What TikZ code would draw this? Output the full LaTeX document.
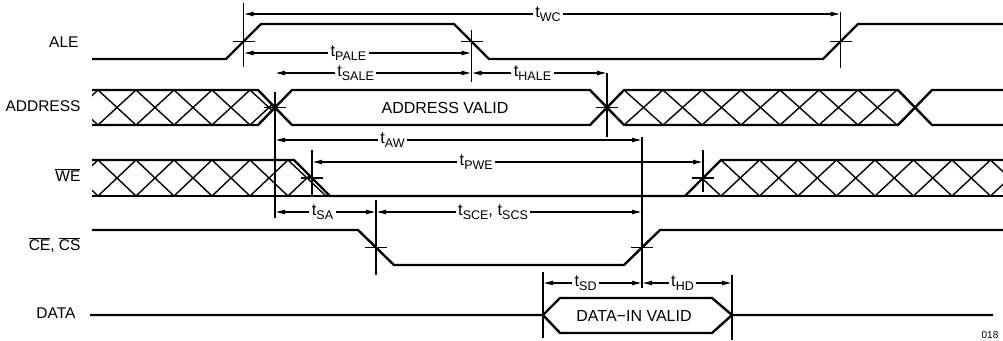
\documentclass[tikz,border=0pt]{standalone}
\usepackage{fontspec}
\setmainfont{Liberation Sans}
\usetikzlibrary{positioning,arrows.meta}

\newcommand{\tsub}[1]{t\raisebox{-0.45ex}{\fontsize{12.5}{13}\selectfont #1}}

\begin{document}
\begin{tikzpicture}[x=1pt, y=-1pt, line join=miter,
  signal/.style={line width=2.4pt},
  hatch/.style={line width=1.4pt},
  refline/.style={line width=1.2pt},
  dim/.style={{Latex[length=10pt,width=5pt]}-{Latex[length=10pt,width=5pt]}, line width=1.2pt},
  lbl/.style={fill=white, inner sep=2.5pt, font=\fontsize{16.5}{17}\selectfont},
  sig name/.style={anchor=east, font=\fontsize{15.5}{16}\selectfont}]

  \useasboundingbox (0,0) rectangle (1003,340);

  % Define signal names
  \node[sig name] (ale) at (82,42) {ALE};
  \node[sig name] (adr) at (84,106) {ADDRESS};
  \node[sig name] (we) at (84,175) {$\overline{\mbox{WE}}$};
  \node[sig name] (ce) at (84,245) {$\overline{\mbox{CE}}$, $\overline{\mbox{CS}}$};
  \node[sig name] (dat) at (79,313) {DATA};

  % Define crossing points
  \coordinate (ale1) at (243.5,41.5);
  \coordinate (ale2) at (471.5,41.5);
  \coordinate (ale3) at (840.5,41.5);
  \coordinate (adr1) at (275,107.5);
  \coordinate (adr2) at (607,107.5);
  \coordinate (we1) at (312,178);
  \coordinate (we2) at (703,178);
  \coordinate (ce1) at (376,247.5);
  \coordinate (ce2) at (642,247.5);
  \coordinate (dat1) at (543,315);
  \coordinate (dat2) at (732,315);

  % Hatched regions
  \begin{scope}
    \clip (92,90) -- (258,90) -- (adr1) -- (258,125) -- (92,125) -- cycle;
    \foreach \x in {60,98,...,300} {
      \draw[hatch] (\x,90) -- ++(38,35);
      \draw[hatch] (\x,125) -- ++(38,-35);
    }
  \end{scope}
  \begin{scope}
    \clip (adr2) -- (624,90) -- (898,90) -- (915,107.5) -- (898,125) -- (624,125) -- cycle;
    \foreach \x in {585,624,...,940} {
      \draw[hatch] (\x,90) -- ++(39,35);
      \draw[hatch] (\x,125) -- ++(39,-35);
    }
  \end{scope}
  \begin{scope}
    \clip (92,160) -- (294,160) -- (330,196) -- (92,196) -- cycle;
    \foreach \x in {60,98,...,340} {
      \draw[hatch] (\x,160) -- ++(38,36);
      \draw[hatch] (\x,196) -- ++(38,-36);
    }
  \end{scope}
  \begin{scope}
    \clip (685,196) -- (721,160) -- (1003,160) -- (1003,196) -- cycle;
    \foreach \x in {682.5,721,...,1010} {
      \draw[hatch] (\x,160) -- ++(38.5,36);
      \draw[hatch] (\x,196) -- ++(38.5,-36);
    }
  \end{scope}

  % Waveforms
  \draw[signal] (92,59) -- (226,59) -- (261,24) -- (454,24) -- (489,59) -- (823,59) -- (858,24) -- (1003,24);
  \draw[signal] (92,90) -- (258,90) -- (292,125) -- (590,125) -- (624,90) -- (898,90) -- (932,125) -- (1003,125);
  \draw[signal] (92,125) -- (258,125) -- (292,90) -- (590,90) -- (624,125) -- (898,125) -- (932,90) -- (1003,90);
  \draw[signal] (92,160) -- (294,160) -- (330,196) -- (685,196) -- (721,160) -- (1003,160);
  \draw[signal] (92,196) -- (1003,196);
  \draw[signal] (92,230) -- (358,230) -- (394,265) -- (624,265) -- (660,230) -- (1003,230);
  \draw[signal] (90,315) -- (dat1) -- (560,298) -- (712,298) -- (dat2) -- (993,315);
  \draw[signal] (dat1) -- (560,333) -- (712,333) -- (dat2);

  \node[font=\fontsize{16}{17}\selectfont] (adrvalid) at (445,107.5) {ADDRESS VALID};
  \node[font=\fontsize{16}{17}\selectfont] (datvalid) at (634,316) {DATA−IN VALID};
  \node[font=\fontsize{10}{11}\selectfont, anchor=south, inner sep=1pt] (fig) at (990,340) {018};

  % Reference lines
  \draw[refline] (ale1 |- 0,3) -- (ale1 |- 0,67);
  \draw[refline] (ale2 |- 0,30) -- (ale2 |- 0,82);
  \draw[refline] (ale3 |- 0,12) -- (ale3 |- 0,68);
  \draw[refline] (adr1 |- 0,92) -- (adr1 |- 0,218);
  \draw[refline] (adr2 |- 0,73) -- (adr2 |- 0,137);
  \draw[refline] (we1 |- 0,150) -- (we1 |- 0,196);
  \draw[refline] (we2 |- 0,150) -- (we2 |- 0,192);
  \draw[refline] (ce1 |- 0,200) -- (ce1 |- 0,275);
  \draw[refline] (ce2 |- 0,137) -- (ce2 |- 0,288);
  \draw[refline] (dat1 |- 0,272) -- (dat1 |- 0,338);
  \draw[refline] (dat2 |- 0,275) -- (dat2 |- 0,340);
  \foreach \c in {ale1,ale2,ale3,adr1,adr2,we1,we2,ce1,ce2}
    \draw[refline] (\c) ++(-11,0) -- ++(22,0);

  % Timing arrows
  \draw[dim] (ale1 |- 0,14) -- node[lbl, pos=.51] (twc) {\tsub{WC}} (ale3 |- 0,14);
  \draw[dim] (ale1 |- 0,53) -- node[lbl, pos=.46] (tpale) {\tsub{PALE}} (ale2 |- 0,53);
  \draw[dim] (adr1 |- 0,73) -- node[lbl, pos=.41] (tsale) {\tsub{SALE}} (ale2 |- 0,73);
  \draw[dim] (ale2 |- 0,73) -- node[lbl, pos=.45] (thale) {\tsub{HALE}} (adr2 |- 0,73);
  \draw[dim] (adr1 |- 0,140) -- node[lbl, pos=.32] (taw) {\tsub{AW}} (ce2 |- 0,140);
  \draw[dim] (we1 |- 0,162) -- node[lbl, pos=.42] (tpwe) {\tsub{PWE}} (we2 |- 0,162);
  \draw[dim] (adr1 |- 0,212) -- node[lbl, pos=.47] (tsa) {\tsub{SA}} (ce1 |- 0,212);
  \draw[dim] (ce1 |- 0,212) -- node[lbl, pos=.44] (tsce) {\tsub{SCE}, \tsub{SCS}} (ce2 |- 0,212);
  \draw[dim] (dat1 |- 0,283) -- node[lbl, pos=.43] (tsd) {\tsub{SD}} (ce2 |- 0,283);
  \draw[dim] (ce2 |- 0,283) -- node[lbl, pos=.45] (thd) {\tsub{HD}} (dat2 |- 0,283);
\end{tikzpicture}
\end{document}
